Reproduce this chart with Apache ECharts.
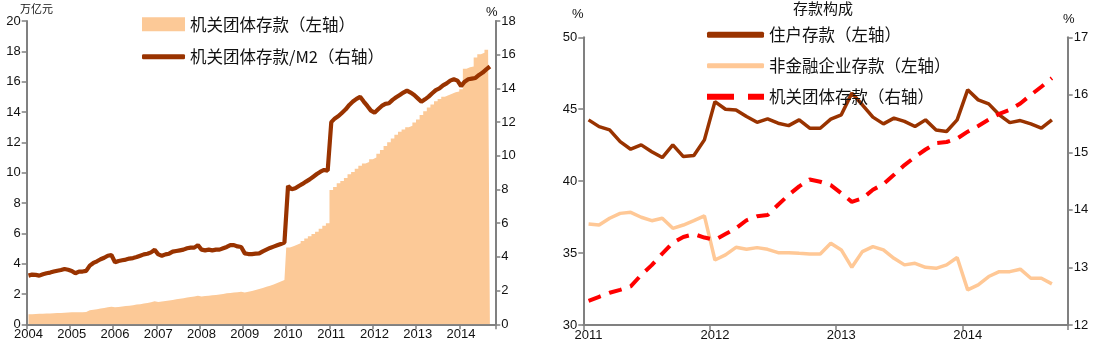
<!DOCTYPE html>
<html>
<head>
<meta charset="utf-8">
<script src="https://cdn.jsdelivr.net/npm/echarts@6/dist/echarts.min.js"></script>
<style>
html,body{margin:0;padding:0;background:#fff;}
#c{width:1093px;height:344px;}
</style>
</head>
<body>
<div id="c"></div>
<script>
// ---------- Left chart data (monthly, 2004-01 .. 2014-09) ----------
const leftYears = [2004,2005,2006,2007,2008,2009,2010,2011,2012,2013,2014];
// 机关团体存款 (万亿元, left axis)
const govDeposits = [
  0.66,0.67,0.68,0.69,0.70,0.71,0.72,0.73,0.74,0.75,0.76,0.77,
  0.79,0.80,0.80,0.80,0.81,0.92,0.96,1.00,1.04,1.08,1.12,1.16,
  1.12,1.14,1.17,1.20,1.23,1.26,1.30,1.33,1.37,1.41,1.45,1.52,
  1.47,1.50,1.53,1.57,1.61,1.65,1.69,1.72,1.76,1.80,1.83,1.89,
  1.84,1.86,1.88,1.91,1.94,1.97,2.00,2.04,2.07,2.10,2.12,2.15,
  2.10,2.15,2.20,2.26,2.33,2.40,2.47,2.55,2.63,2.72,2.82,2.92,
  5.07,5.15,5.25,5.35,5.50,5.65,5.80,5.95,6.10,6.30,6.50,6.66,
  8.85,9.05,9.30,9.45,9.65,9.90,10.05,10.25,10.45,10.60,10.70,10.88,
  11.00,11.25,11.50,11.75,12.00,12.25,12.50,12.70,12.85,13.00,13.10,13.30,
  13.50,13.80,14.05,14.30,14.50,14.70,14.85,15.00,15.10,15.20,15.30,15.35,
  15.50,16.85,16.95,17.00,17.60,17.80,17.90,18.10,18.30
];
// 机关团体存款/M2 (%, right axis)
const govToM2 = [
  2.89,2.95,2.93,2.89,2.97,3.03,3.07,3.13,3.18,3.22,3.28,3.24,
  3.17,3.03,3.13,3.13,3.17,3.48,3.64,3.74,3.86,3.95,4.07,4.11,
  3.68,3.76,3.80,3.84,3.90,3.93,3.99,4.07,4.15,4.19,4.27,4.42,
  4.15,4.07,4.15,4.19,4.31,4.35,4.39,4.43,4.51,4.55,4.55,4.70,
  4.43,4.39,4.43,4.39,4.43,4.43,4.51,4.59,4.70,4.70,4.62,4.59,
  4.21,4.17,4.17,4.19,4.21,4.33,4.43,4.53,4.61,4.69,4.77,4.85,
  8.21,8.01,8.07,8.21,8.33,8.47,8.60,8.76,8.92,9.06,9.16,9.12,
  12.00,12.22,12.36,12.56,12.76,13.02,13.22,13.38,13.50,13.22,12.96,12.68,
  12.56,12.76,12.96,13.08,13.12,13.32,13.47,13.61,13.75,13.87,13.75,13.61,
  13.41,13.21,13.35,13.51,13.71,13.90,14.00,14.18,14.30,14.46,14.54,14.46,
  14.14,14.40,14.54,14.58,14.62,14.80,14.94,15.13,15.30
];

// ---------- Right chart data (monthly, 2011-01 .. 2014-09) ----------
const rightYears = [2011,2012,2013,2014];
// 住户存款 (%, left axis)
const household = [
  44.26,43.79,43.56,42.75,42.22,42.52,42.05,41.64,42.52,41.71,41.78,42.87,
  45.53,45.00,44.95,44.49,44.09,44.33,44.03,43.86,44.26,43.68,43.68,44.31,
  44.61,46.12,45.31,44.45,43.98,44.38,44.15,43.80,44.26,43.56,43.45,44.26,
  46.35,45.65,45.37,44.61,44.07,44.21,43.98,43.68,44.26
];
// 非金融企业存款 (%, left axis)
const nonFinancial = [
  37.02,36.95,37.42,37.76,37.83,37.49,37.25,37.42,36.72,36.95,37.25,37.58,
  34.52,34.87,35.40,35.26,35.38,35.26,35.03,35.03,34.98,34.94,34.94,35.68,
  35.22,34.01,35.10,35.45,35.22,34.64,34.18,34.29,34.01,33.94,34.18,34.69,
  32.44,32.79,33.37,33.71,33.71,33.88,33.25,33.25,32.86
];
// 机关团体存款 share (%, right axis)
const govShare = [
  12.42,12.49,12.56,12.61,12.67,12.87,13.04,13.24,13.43,13.53,13.58,13.52,
  13.48,13.58,13.68,13.82,13.89,13.91,14.09,14.26,14.41,14.53,14.49,14.43,
  14.29,14.14,14.20,14.35,14.45,14.61,14.78,14.92,15.05,15.16,15.18,15.24,
  15.36,15.46,15.57,15.67,15.74,15.85,16.00,16.14,16.29
];

// category labels (month strings), plus one empty trailing month
function months(years, count) {
  const out = [];
  for (let i = 0; i < count; i++) {
    const y = years[0] + Math.floor(i / 12);
    const m = (i % 12) + 1;
    out.push(y + '-' + (m < 10 ? '0' + m : m));
  }
  return out;
}
const leftMonths = months(leftYears, govDeposits.length + 1);
const rightMonths = months(rightYears, household.length + 1);

const AXIS = '#808080';
const LBL = {color: '#111', fontSize: 13, fontFamily: 'Liberation Sans, Arial, sans-serif'};
const CJK = 'Noto Sans CJK SC';
const legendText = {color: '#111', fontSize: 16.5, fontFamily: CJK};

function xCat(grid, data) {
  return {
    type: 'category', gridIndex: grid, data: data, boundaryGap: true,
    axisLine: {show: true, lineStyle: {color: AXIS, width: 2}},
    axisTick: {show: true, interval: (i) => i % 12 === 0, length: 5, lineStyle: {color: AXIS, width: 1.5}},
    axisLabel: Object.assign({interval: (i) => i % 12 === 0, formatter: (v) => v.slice(0, 4), margin: 4}, LBL),
    splitLine: {show: false}
  };
}
function yVal(grid, pos, min, max, interval) {
  return {
    type: 'value', gridIndex: grid, position: pos, min: min, max: max, interval: interval,
    axisLine: {show: true, lineStyle: {color: AXIS, width: 2}},
    axisTick: {show: true, length: 5, lineStyle: {color: AXIS, width: 1.5}},
    axisLabel: Object.assign({margin: 6}, LBL),
    splitLine: {show: false}
  };
}
function leg(name, icon, left, top, w, h, color) {
  const d = {name: name, icon: icon};
  if (color) d.itemStyle = {color: color};
  return {data: [d], left: left, top: top, itemWidth: w, itemHeight: h,
          itemGap: 5, symbolKeepAspect: false, textStyle: legendText};
}

const option = {
  animation: false,
  backgroundColor: '#fff',
  grid: [
    {left: 26.7, right: 597.7, top: 21, bottom: 19.7, containLabel: false},
    {left: 583.3, right: 25.3, top: 37.3, bottom: 19, containLabel: false}
  ],
  xAxis: [xCat(0, leftMonths), xCat(1, rightMonths)],
  yAxis: [
    yVal(0, 'left', 0, 20, 2),
    yVal(0, 'right', 0, 18, 2),
    yVal(1, 'left', 30, 50, 5),
    yVal(1, 'right', 12, 17, 1)
  ],
  legend: [
    leg('机关团体存款（左轴）', 'rect', 137, 11, 43, 14, '#FCC997'),
    leg('机关团体存款/M2（右轴）', 'roundRect', 137, 43.5, 43, 5),
    leg('住户存款（左轴）', 'roundRect', 702, 21.5, 57, 6),
    leg('非金融企业存款（左轴）', 'roundRect', 702, 52.5, 57, 5),
    leg('机关团体存款（右轴）', 'path://M0,0H27V6H0Z M41,0H57V6H41Z', 702, 83.5, 57, 6)
  ],
  graphic: [
    {type: 'text', left: 20, top: 3, style: {text: '万亿元', fontSize: 11, fill: '#111', fontFamily: CJK}},
    {type: 'text', left: 486, top: 6, style: {text: '%', fontSize: 13, fill: '#111', fontFamily: 'Liberation Sans'}},
    {type: 'text', left: 793, top: 1, style: {text: '存款构成', fontSize: 15, fill: '#111', fontFamily: CJK}},
    {type: 'text', left: 572, top: 8, style: {text: '%', fontSize: 13, fill: '#111', fontFamily: 'Liberation Sans'}},
    {type: 'text', left: 1063, top: 13, style: {text: '%', fontSize: 13, fill: '#111', fontFamily: 'Liberation Sans'}}
  ],
  series: [
    {
      // monthly columns with no gap, drawn as a stepped area so adjacent months join seamlessly
      name: '机关团体存款（左轴）', type: 'line', xAxisIndex: 0, yAxisIndex: 0,
      data: govDeposits, step: 'middle', symbol: 'none',
      itemStyle: {color: '#FCC997'},
      lineStyle: {width: 0, color: '#FCC997'},
      areaStyle: {color: '#FCC997', opacity: 1, origin: 'start'}
    },
    {
      name: '机关团体存款/M2（右轴）', type: 'line', xAxisIndex: 0, yAxisIndex: 1,
      data: govToM2, symbol: 'none', itemStyle: {color: '#993300'},
      lineStyle: {color: '#993300', width: 4.2}
    },
    {
      name: '住户存款（左轴）', type: 'line', xAxisIndex: 1, yAxisIndex: 2,
      data: household, symbol: 'none', itemStyle: {color: '#993300'},
      lineStyle: {color: '#993300', width: 3.5}
    },
    {
      name: '非金融企业存款（左轴）', type: 'line', xAxisIndex: 1, yAxisIndex: 2,
      data: nonFinancial, symbol: 'none', itemStyle: {color: '#FFC896'},
      lineStyle: {color: '#FFC896', width: 3.5}
    },
    {
      name: '机关团体存款（右轴）', type: 'line', xAxisIndex: 1, yAxisIndex: 3,
      data: govShare, symbol: 'none', itemStyle: {color: '#FF0000'},
      lineStyle: {color: '#FF0000', width: 4, type: [13, 9]}
    }
  ]
};

const chart = echarts.init(document.getElementById('c'), null, {renderer: 'canvas'});
chart.setOption(option);
</script>
</body>
</html>
